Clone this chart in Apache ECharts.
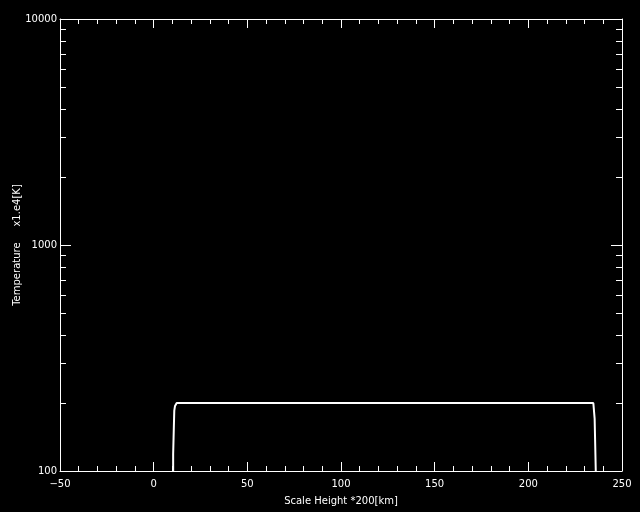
<!DOCTYPE html>
<html>
<head>
<meta charset="utf-8">
<script src="https://cdn.jsdelivr.net/npm/echarts@6/dist/echarts.min.js"></script>
<style>html,body{margin:0;padding:0;background:#000;}#c{width:640px;height:512px;}</style>
</head>
<body>
<div id="c"></div>
<script>
// Data
const scaleHeight = [10.4, 10.4, 11.0, 11.0, 11.4, 12.3, 234.7, 235.4, 235.4, 236.0, 236.0];
const temperature = [100, 119, 121, 185, 194, 200, 200, 196, 170, 168, 100];
const X_MIN = -50, X_MAX = 250, X_STEP = 50;
const Y_MIN = 100, Y_MAX = 10000;
const yMinorTicks = [200, 300, 400, 500, 600, 700, 800, 900, 2000, 3000, 4000, 5000, 6000, 7000, 8000, 9000];
const xTitle = 'Scale Height *200[km]';
const yTitle = 'Temperature     x1.e4[K]';

const FONT = 'DejaVu Sans';
const white = '#ffffff';
const chart = echarts.init(document.getElementById('c'), null, {renderer: 'canvas'});

function xAxisDef(pos, labels) {
  return {
    type: 'value', position: pos, min: X_MIN, max: X_MAX, interval: X_STEP,
    axisLine: {show: true, onZero: false, lineStyle: {color: white, width: 1}},
    axisTick: {show: true, inside: true, length: 9, lineStyle: {color: white}},
    minorTick: {show: true, splitNumber: 5, length: 5, lineStyle: {color: white}},
    splitLine: {show: false}, minorSplitLine: {show: false},
    axisLabel: {show: labels, color: white, fontFamily: FONT, fontSize: 10, margin: 8,
      formatter: v => (v < 0 ? '\u2212' + Math.abs(v) : String(v))},
    name: labels ? xTitle : '', nameLocation: 'middle', nameGap: 25, nameMoveOverlap: false,
    nameTextStyle: {color: white, fontFamily: FONT, fontSize: 10}
  };
}
function yAxisDef(pos, labels) {
  return {
    type: 'log', logBase: 10, position: pos, min: Y_MIN, max: Y_MAX,
    axisLine: {show: true, onZero: false, lineStyle: {color: white, width: 1}},
    axisTick: {show: true, inside: true, length: 11, lineStyle: {color: white}},
    splitLine: {show: false}, minorTick: {show: false},
    axisLabel: {show: labels, color: white, fontFamily: FONT, fontSize: 10, margin: 3,
      formatter: v => String(Math.round(v))},
    name: labels ? yTitle : '', nameLocation: 'middle', nameGap: 38, nameRotate: 90, nameMoveOverlap: false,
    nameTextStyle: {color: white, fontFamily: FONT, fontSize: 10}
  };
}

chart.setOption({
  backgroundColor: '#000000',
  animation: false,
  grid: {left: 60, right: 18, top: 19, bottom: 41, containLabel: false, outerBoundsMode: 'none'},
  xAxis: [xAxisDef('bottom', true), xAxisDef('top', false)],
  yAxis: [yAxisDef('left', true), yAxisDef('right', false)],
  series: [
    {
      type: 'line', xAxisIndex: 0, yAxisIndex: 0,
      data: scaleHeight.map((x, i) => [x, temperature[i]]),
      showSymbol: false, symbol: 'none',
      lineStyle: {color: white, width: 2}
    },
    {
      type: 'custom', xAxisIndex: 0, yAxisIndex: 0, silent: true,
      data: yMinorTicks.map(v => [X_MIN, v]),
      renderItem: function (params, api) {
        const v = api.value(1);
        const p0 = api.coord([X_MIN, v]);
        const p1 = api.coord([X_MAX, v]);
        const y = Math.round(p0[1]) + 0.5;
        return {
          type: 'group',
          children: [
            {type: 'line', shape: {x1: p0[0], y1: y, x2: p0[0] + 6, y2: y}, style: {stroke: white, lineWidth: 1}},
            {type: 'line', shape: {x1: p1[0] - 6, y1: y, x2: p1[0], y2: y}, style: {stroke: white, lineWidth: 1}}
          ]
        };
      }
    }
  ]
});
</script>
</body>
</html>
